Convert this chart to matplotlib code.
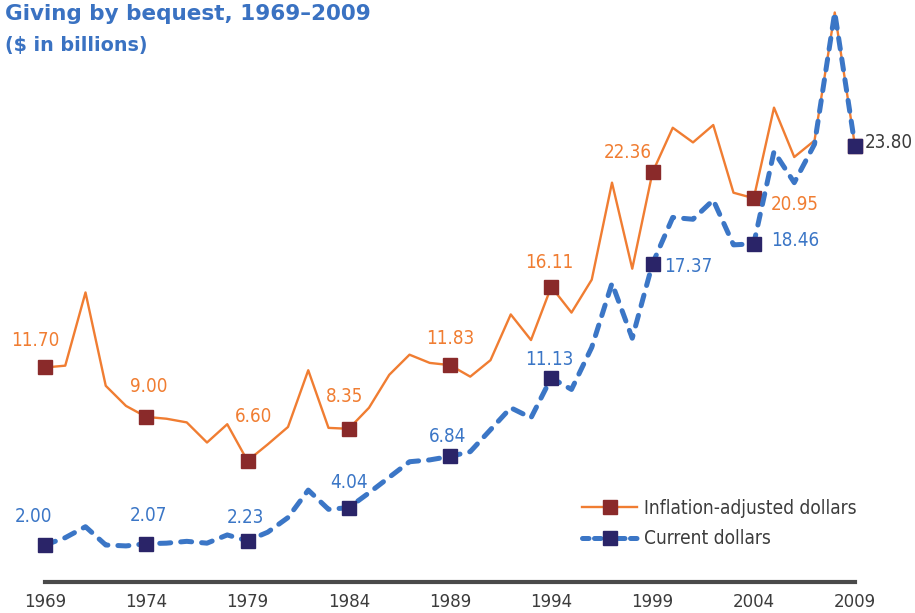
import matplotlib
matplotlib.use("Agg")
import matplotlib.pyplot as plt
from matplotlib import font_manager as fm
from matplotlib.lines import Line2D

# ---------------- data ----------------
years = list(range(1969, 2010))
inflation_adjusted = [11.70, 11.8, 15.8, 10.7, 9.6, 9.00, 8.9, 8.7, 7.6, 8.6,
                      6.60, 7.5, 8.45, 11.55, 8.4, 8.35, 9.5, 11.3, 12.4, 11.95,
                      11.83, 11.2, 12.1, 14.6, 13.2, 16.11, 14.7, 16.5, 21.8, 17.1,
                      22.36, 24.8, 24.0, 24.95, 21.25, 20.95, 25.9, 23.2, 24.1, 31.1,
                      23.80]
current_dollars = [2.00, 2.4, 3.0, 2.0, 1.95, 2.07, 2.1, 2.2, 2.1, 2.55,
                   2.23, 2.7, 3.5, 5.0, 3.95, 4.04, 4.85, 5.7, 6.55, 6.65,
                   6.84, 7.1, 8.3, 9.5, 8.95, 11.13, 10.5, 12.8, 16.3, 13.3,
                   17.37, 19.9, 19.8, 20.85, 18.4, 18.46, 23.5, 21.8, 23.9, 31.1,
                   23.80]
marker_years = [1969, 1974, 1979, 1984, 1989, 1994, 1999, 2004, 2009]
tick_labels = [str(y) for y in marker_years]
title = "Giving by bequest, 1969\u20132009"
subtitle = "($ in billions)"
legend_labels = ["Inflation-adjusted dollars", "Current dollars"]

# ---------------- fonts ----------------
def find_condensed():
    prefs = ["liberationsansnarrow-regular", "dejavusanscondensed.ttf",
             "robotocondensed-regular", "opensans_condensed-regular",
             "opensans-condensed", "notosans-condensed", "notosanscondensed"]
    entries = fm.fontManager.ttflist
    for p in prefs:
        for f in entries:
            if p in f.fname.lower().replace(" ", ""):
                return f.fname
    for f in entries:
        n = f.fname.lower()
        if ("narrow" in n or "condensed" in n) and "bold" not in n \
                and "italic" not in n and "oblique" not in n:
            return f.fname
    for f in entries:
        if str(f.stretch) in ("condensed", "semi-condensed", "extra-condensed") \
                and f.weight in (400, "normal", "regular") and f.style == "normal":
            return f.fname
    return None

COND = find_condensed()

def cfp(size):
    if COND:
        return fm.FontProperties(fname=COND, size=size)
    return fm.FontProperties(family="Liberation Sans", size=size * 0.85)

def bfp(size):
    return fm.FontProperties(family="DejaVu Sans", weight="bold", size=size)

ORANGE = "#F07D32"
DARKRED = "#8A2A2A"
BLUE = "#3B76C6"
NAVY = "#2A2468"
GRAY = "#3C3C3C"
DASH = (0, (2.2, 2.0))

W, H = 915, 613
fig = plt.figure(figsize=(W / 100, H / 100), dpi=100)
# axes: 1969 -> x=45px, 2009 -> x=855px ; y=0 at 581.6px, 18.3 px per unit
ymax = 31.5
ax = fig.add_axes([45 / W, (H - 581.6) / H, 810 / W, ymax * 18.3 / H])
ax.set_xlim(1969, 2009)
ax.set_ylim(0, ymax)

idx = [years.index(y) for y in marker_years]

ax.plot(years, inflation_adjusted, color=ORANGE, lw=1.7, zorder=2,
        marker="s", markevery=idx, markersize=10, markerfacecolor=DARKRED,
        markeredgecolor=DARKRED, clip_on=False)
ax.plot(years, current_dollars, color=BLUE, lw=3.6, zorder=3,
        linestyle=DASH, dash_capstyle="round",
        marker="s", markevery=idx, markersize=10, markerfacecolor=NAVY,
        markeredgecolor=NAVY, clip_on=False)

# value labels (offsets in pixels, styling only)
infl_offsets = [(-10, 27, "center"), (2, 30, "center"), (6, 44, "center"),
                (-4, 32, "center"), (0, 27, "center"), (-2, 24, "center"),
                (-25, 20, "center"), (17, -6, "left"), None]
curr_offsets = [(-12, 28, "center"), (2, 28, "center"), (-2, 23, "center"),
                (0, 25, "center"), (-2, 20, "center"), (-2, 18, "center"),
                (12, -3, "left"), (17, 3, "left"), (10, 4, "left")]

lab_fp = cfp(13.5)
for y, off in zip(marker_years, infl_offsets):
    if off is None:
        continue
    v = inflation_adjusted[years.index(y)]
    ax.annotate(f"{v:.2f}", (y, v), xytext=(off[0], off[1]),
                textcoords="offset pixels", ha=off[2], va="center",
                fontproperties=lab_fp, color=ORANGE, annotation_clip=False)
for y, off in zip(marker_years, curr_offsets):
    v = current_dollars[years.index(y)]
    col = GRAY if y == 2009 else BLUE
    ax.annotate(f"{v:.2f}", (y, v), xytext=(off[0], off[1]),
                textcoords="offset pixels", ha=off[2], va="center",
                fontproperties=lab_fp, color=col, annotation_clip=False)

# axes styling
for s in ["left", "right", "top"]:
    ax.spines[s].set_visible(False)
ax.spines["bottom"].set_color("#4a4a4a")
ax.spines["bottom"].set_linewidth(3)
ax.set_yticks([])
ax.set_xticks(marker_years)
ax.set_xticklabels(tick_labels, fontproperties=cfp(13.3), color=GRAY)
ax.tick_params(axis="x", length=0, pad=8)
ax.patch.set_visible(False)

handles = [
    Line2D([0], [0], color=ORANGE, lw=1.7, marker="s", markersize=10,
           markerfacecolor=DARKRED, markeredgecolor=DARKRED),
    Line2D([0], [0], color=BLUE, lw=3.6, linestyle=(0, (1.3, 1.1)),
           dash_capstyle="round", marker="s", markersize=10,
           markerfacecolor=NAVY, markeredgecolor=NAVY),
]
leg = fig.legend(handles, legend_labels, loc="upper left",
                 bbox_to_anchor=(582 / W, 1 - 499 / H),
                 frameon=False, prop=cfp(13.7),
                 handlelength=2.9, handletextpad=0.35, labelspacing=0.6,
                 borderpad=0, borderaxespad=0)
for t in leg.get_texts():
    t.set_color(GRAY)

fig.text(5 / W, 1 - 4 / H, title, ha="left", va="top",
         fontproperties=bfp(15.5), color="#3A72C2")
fig.text(5 / W, 1 - 36 / H, subtitle, ha="left", va="top",
         fontproperties=bfp(13.8), color="#3A72C2")

fig.savefig("out.png", dpi=100)
